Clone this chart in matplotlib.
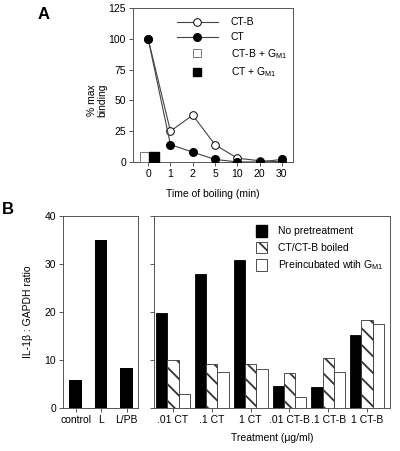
import matplotlib
matplotlib.use("Agg")
import matplotlib.pyplot as plt
from matplotlib.lines import Line2D
from matplotlib.patches import Patch
import numpy as np

plt.rcParams['font.family'] = ['Liberation Sans', 'DejaVu Sans']
plt.rcParams['font.size'] = 7.5
plt.rcParams['hatch.linewidth'] = 1.3

# Panel A data
times = ["0", "1", "2", "5", "10", "20", "30"]
ctb = [100, 25, 38, 14, 3, 1, 0]
ct = [100, 14, 8, 2, 0, 0, 2]
ctb_gm1 = [4]
ct_gm1 = [4]

# Panel B data
ctrl_labels = ["control", "L", "L/PB"]
ctrl_vals = [5.9, 35.0, 8.3]
treatments = [".01 CT", ".1 CT", "1 CT", ".01 CT-B", ".1 CT-B", "1 CT-B"]
no_pre = [19.8, 28.0, 30.9, 4.5, 4.3, 15.3]
boiled = [10.0, 9.2, 9.2, 7.3, 10.5, 18.3]
gm1 = [3.0, 7.5, 8.2, 2.2, 7.4, 17.4]

fig = plt.figure(figsize=(4.0, 4.51), dpi=100)

def style(ax):
    for s in ax.spines.values():
        s.set_linewidth(0.7)
        s.set_color("#555555")
    ax.tick_params(direction="out", length=3, width=0.7, color="#555555", pad=2)

# ---- Panel A ----
axA = fig.add_axes([0.3325, 0.641, 0.40, 0.341])
style(axA)
x = np.arange(len(times))
axA.plot(x, ctb, color="#444444", lw=0.8, marker="o", ms=5.5, mfc="white", mec="black", mew=0.7, zorder=3)
axA.plot(x, ct, color="#444444", lw=0.8, marker="o", ms=5.5, mfc="black", mec="black", zorder=4)
axA.plot([-0.15], ctb_gm1, ls="none", marker="s", ms=6.5, mfc="white", mec="#777777", mew=0.7, zorder=5)
axA.plot([0.25], ct_gm1, ls="none", marker="s", ms=6.5, mfc="black", mec="black", zorder=5)
axA.set_xlim(-0.68, 6.5)
axA.set_ylim(0, 125)
axA.set_yticks([0, 25, 50, 75, 100, 125])
axA.set_xticks(x)
axA.set_xticklabels(times)
axA.set_xlabel("Time of boiling (min)", labelpad=7)
axA.set_ylabel("% max\nbinding", linespacing=1.0)
axA.yaxis.set_label_coords(-0.16, 0.4)
handlesA = [
    Line2D([], [], color="#444444", lw=0.8, marker="o", ms=5.5, mfc="white", mec="black", mew=0.7),
    Line2D([], [], color="#444444", lw=0.8, marker="o", ms=5.5, mfc="black", mec="black"),
    Line2D([], [], ls="none", marker="s", ms=5.5, mfc="white", mec="#777777", mew=0.7),
    Line2D([], [], ls="none", marker="s", ms=5.5, mfc="black", mec="black"),
]
axA.legend(handlesA, ["CT-B", "CT", "CT-B + G$_{\\mathregular{M1}}$", "CT + G$_{\\mathregular{M1}}$"],
           loc="upper right", bbox_to_anchor=(1.02, 1.0), frameon=False, handlelength=4.0,
           handletextpad=1.2, labelspacing=0.45, fontsize=7.5)
fig.text(0.11, 0.967, "A", fontsize=12, fontweight="bold", ha="center", va="center")

# ---- Panel B left ----
axB1 = fig.add_axes([0.1575, 0.0953, 0.1875, 0.426])
style(axB1)
xc = np.arange(len(ctrl_labels))
axB1.bar(xc, ctrl_vals, width=0.5, color="black")
axB1.set_xlim(-0.5, 2.45)
axB1.set_ylim(0, 40)
axB1.set_yticks([0, 10, 20, 30, 40])
axB1.set_xticks(xc)
axB1.set_xticklabels(ctrl_labels)
axB1.set_ylabel("IL-1\u03b2 : GAPDH ratio", labelpad=8)
fig.text(0.02, 0.535, "B", fontsize=12, fontweight="bold", ha="center", va="center")

# ---- Panel B right ----
axB2 = fig.add_axes([0.385, 0.0953, 0.59, 0.426])
style(axB2)
xt = np.arange(len(treatments))
w = 0.29
axB2.bar(xt - w, no_pre, width=w, color="black", edgecolor="black", lw=0.6)
axB2.bar(xt, boiled, width=w, color="white", edgecolor="#333333", lw=0.6, hatch="\\\\")
axB2.bar(xt + w, gm1, width=w, color="white", edgecolor="#333333", lw=0.6)
axB2.set_xlim(-0.49, 5.59)
axB2.set_ylim(0, 40)
axB2.set_yticks([0, 10, 20, 30, 40])
axB2.set_yticklabels([])
axB2.set_xticks(xt)
axB2.set_xticklabels(treatments)
axB2.set_xlabel("Treatment (\u03bcg/ml)", labelpad=6)
handlesB = [
    Patch(facecolor="black", edgecolor="black"),
    Patch(facecolor="white", edgecolor="#333333", hatch="\\\\", lw=0.6),
    Patch(facecolor="white", edgecolor="#333333", lw=0.6),
]
axB2.legend(handlesB, ["No pretreatment", "CT/CT-B boiled", "Preincubated wtih G$_{\\mathregular{M1}}$"],
            loc="upper right", bbox_to_anchor=(1.01, 1.0), frameon=False, handlelength=1.1,
            handleheight=1.3, handletextpad=1.0, labelspacing=0.5, fontsize=7.5)

fig.savefig("out.png", dpi=100)
